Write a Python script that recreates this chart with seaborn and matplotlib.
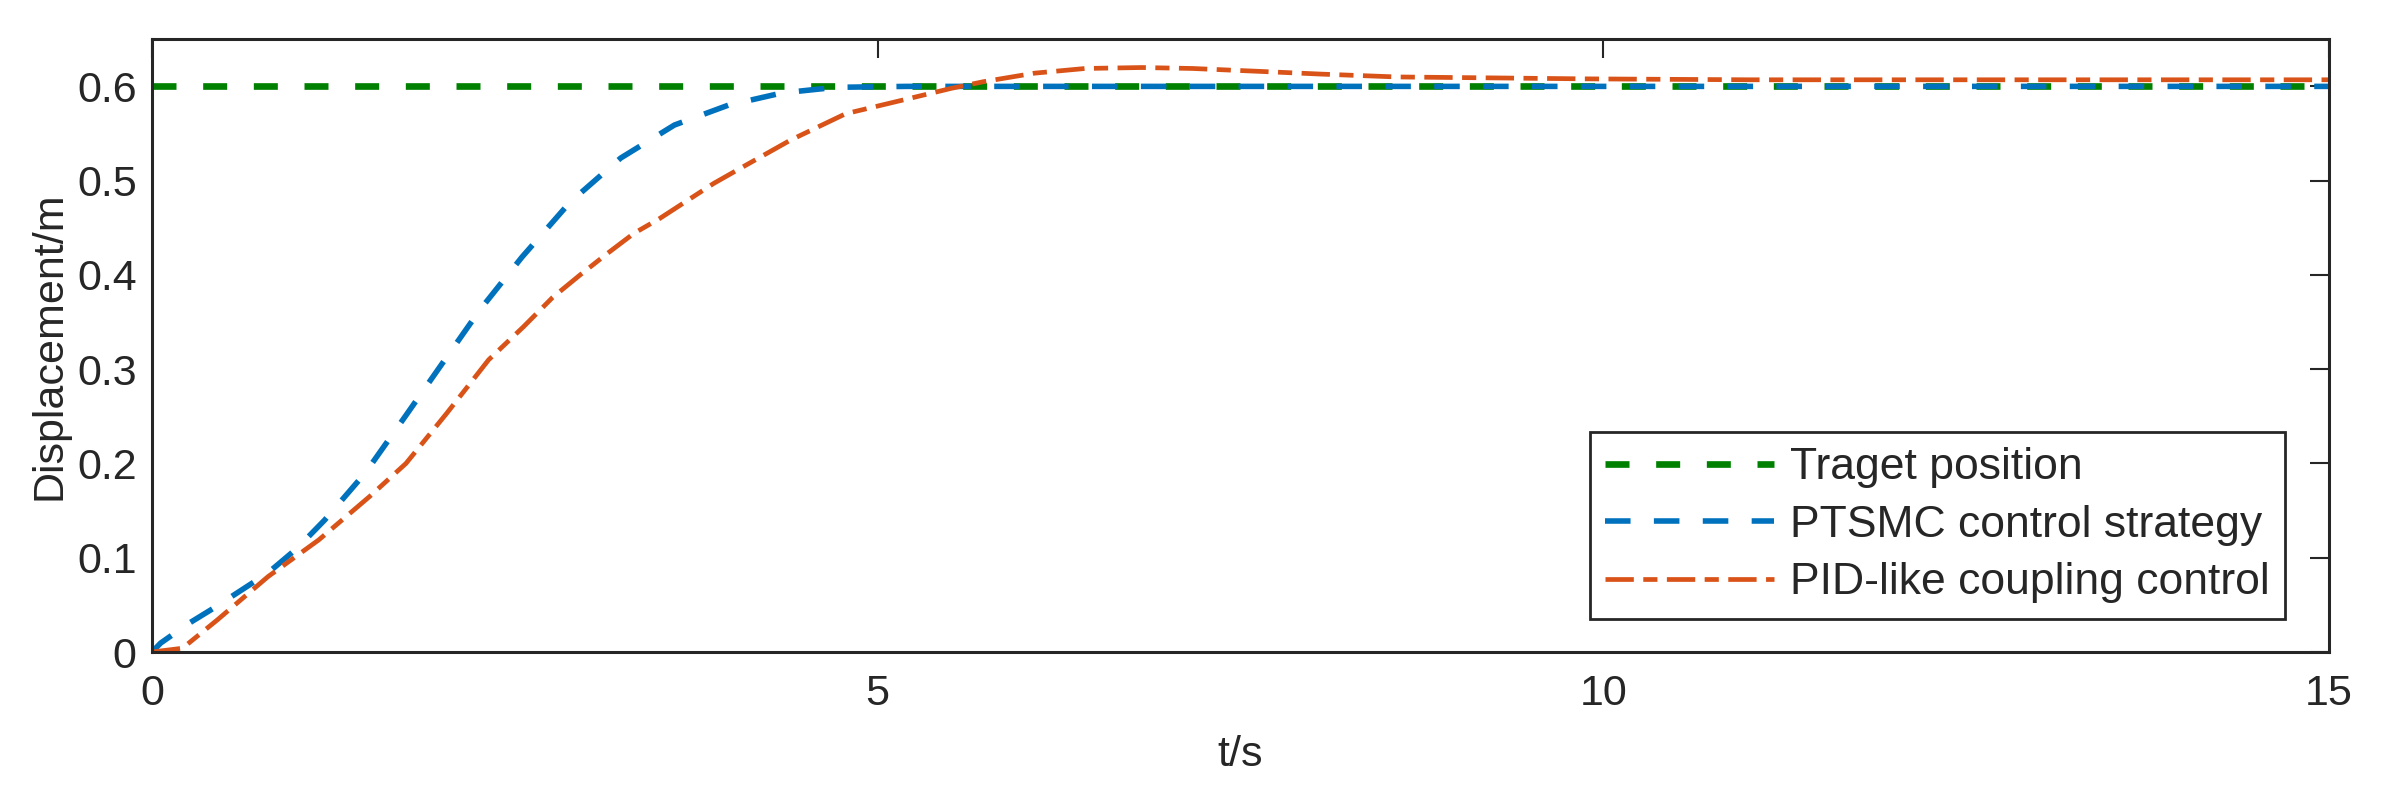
import matplotlib
matplotlib.use("Agg")
import matplotlib.pyplot as plt
import seaborn as sns
import pandas as pd

# values
target_t = [0, 15]
target_y = [0.6, 0.6]

ptsmc_t = [0, 0.06, 0.25, 0.43, 0.6, 0.80, 1.0, 1.19, 1.47, 1.75, 2.0, 2.26, 2.55,
           2.88, 3.23, 3.60, 3.97, 4.34, 4.71, 5.2, 6, 8, 10, 12, 15]
ptsmc_y = [0, 0.0095, 0.03, 0.047, 0.064, 0.084, 0.11, 0.14, 0.19, 0.251, 0.306, 0.363,
           0.419, 0.477, 0.524, 0.559, 0.58, 0.593, 0.599, 0.6, 0.6, 0.6, 0.6, 0.6, 0.6]

pid_t = [0, 0.21, 0.45, 0.80, 1.15, 1.50, 1.75, 2.03, 2.32, 2.56, 2.76, 2.95, 3.14,
         3.32, 3.50, 3.69, 3.87, 4.03, 4.40, 4.78, 5.16, 5.51, 5.73, 6.08, 6.43, 6.82,
         7.17, 7.62, 8.06, 8.58, 9.24, 9.86, 11, 12.5, 15]
pid_y = [0, 0.004, 0.034, 0.080, 0.119, 0.165, 0.20, 0.253, 0.31, 0.345, 0.376, 0.40,
         0.423, 0.444, 0.46, 0.479, 0.497, 0.511, 0.543, 0.571, 0.585, 0.598, 0.605,
         0.614, 0.619, 0.620, 0.619, 0.616, 0.613, 0.610, 0.609, 0.608, 0.607, 0.607, 0.607]

labels = ['Traget position', 'PTSMC control strategy', 'PID-like coupling control']
colors = ['#008000', '#0072BD', '#D95319']

sns.set_theme(style='white')
plt.rcParams['font.family'] = ['Liberation Sans', 'DejaVu Sans']

fig = plt.figure(figsize=(23.93, 8.01), dpi=100)
ax = fig.add_axes([0.0635, 0.186, 0.9097, 0.765])

sns.lineplot(x=target_t, y=target_y, ax=ax, color=colors[0], linewidth=4.8,
             linestyle=(0, (3.6, 4.0)), label=labels[0])
sns.lineplot(x=ptsmc_t, y=ptsmc_y, ax=ax, color=colors[1], linewidth=4,
             linestyle=(0, (4.6, 4.2)), label=labels[1])
sns.lineplot(x=pid_t, y=pid_y, ax=ax, color=colors[2], linewidth=3.4,
             linestyle=(0, (6, 2, 3, 2)), label=labels[2])

ax.set_xlim(0, 15)
ax.set_ylim(0, 0.65)
ax.set_xticks([0, 5, 10, 15])
ax.set_yticks([0, 0.1, 0.2, 0.3, 0.4, 0.5, 0.6])
ax.set_yticklabels(['0', '0.1', '0.2', '0.3', '0.4', '0.5', '0.6'])

dark = '#262626'
for s in ax.spines.values():
    s.set_color(dark)
    s.set_linewidth(2.2)
ax.tick_params(direction='in', top=True, right=True, length=14, width=1.5,
               color=dark, labelcolor=dark, labelsize=31)
ax.tick_params(axis='x', pad=16)
ax.tick_params(axis='y', pad=11)

ax.set_xlabel('t/s', fontsize=31, color=dark)
ax.set_ylabel('Displacement/m', fontsize=31, color=dark)
ax.xaxis.set_label_coords(0.5, -0.135)
ax.yaxis.set_label_coords(-0.038, 0.5)

leg = ax.legend(loc='lower right', bbox_to_anchor=(0.980, 0.054), borderaxespad=0,
                fontsize=32, frameon=True, fancybox=False, framealpha=1,
                handlelength=3.8, handletextpad=0.36, labelspacing=0.37,
                borderpad=0.35)
leg.get_frame().set_edgecolor(dark)
leg.get_frame().set_linewidth(2)

plt.savefig('out.png', dpi=100)
